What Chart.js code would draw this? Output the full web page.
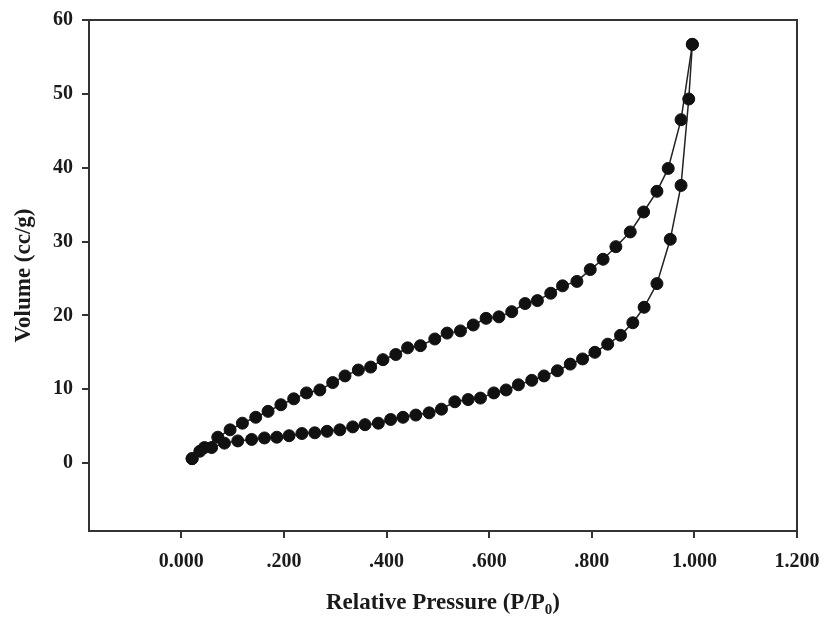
<!DOCTYPE html>
<html>
<head>
<meta charset="utf-8">
<script src="https://cdn.jsdelivr.net/npm/chart.js@4.4.1/dist/chart.umd.min.js"></script>
<style>
  html, body { margin: 0; padding: 0; background: #fff; }
  #isotherm { display: block; }
</style>
</head>
<body>
<canvas id="isotherm" width="824" height="619"></canvas>
<script>
// ---------- DATA ----------
// adsorption branch (lower curve)
const adsP = [0.021, 0.036, 0.059, 0.084, 0.110, 0.137, 0.162, 0.186, 0.210, 0.235,
  0.260, 0.284, 0.309, 0.334, 0.358, 0.384, 0.408, 0.432, 0.457, 0.483,
  0.507, 0.533, 0.559, 0.583, 0.609, 0.633, 0.657, 0.683, 0.707, 0.733,
  0.758, 0.782, 0.806, 0.831, 0.856, 0.880, 0.902, 0.927, 0.953, 0.974,
  0.989, 0.996];
const adsV = [0.6, 1.6, 2.1, 2.7, 3.0, 3.2, 3.4, 3.5, 3.7, 4.0,
  4.1, 4.3, 4.5, 4.9, 5.2, 5.4, 5.9, 6.2, 6.5, 6.8,
  7.3, 8.3, 8.6, 8.8, 9.5, 9.9, 10.6, 11.2, 11.8, 12.5,
  13.4, 14.1, 15.0, 16.1, 17.3, 19.0, 21.1, 24.3, 30.3, 37.6,
  49.3, 56.7];

// desorption branch (upper curve)
const desP = [0.021, 0.045, 0.071, 0.095, 0.119, 0.145, 0.169, 0.194, 0.219, 0.244,
  0.270, 0.295, 0.319, 0.345, 0.369, 0.393, 0.418, 0.441, 0.466, 0.494,
  0.518, 0.544, 0.569, 0.594, 0.619, 0.644, 0.670, 0.694, 0.720, 0.743,
  0.771, 0.797, 0.822, 0.847, 0.875, 0.901, 0.927, 0.949, 0.974, 0.996];
const desV = [0.6, 2.1, 3.5, 4.5, 5.4, 6.2, 7.0, 7.9, 8.7, 9.5,
  9.9, 10.9, 11.8, 12.6, 13.0, 14.0, 14.7, 15.6, 15.9, 16.8,
  17.6, 17.9, 18.7, 19.6, 19.8, 20.5, 21.6, 22.0, 23.0, 24.0,
  24.6, 26.2, 27.6, 29.3, 31.3, 34.0, 36.8, 39.9, 46.5, 56.7];

// axis ticks
const xTicks = [0, 0.2, 0.4, 0.6, 0.8, 1.0, 1.2];
const xTickLabels = ["0.000", ".200", ".400", ".600", ".800", "1.000", "1.200"];
const yTicks = [0, 10, 20, 30, 40, 50, 60];

// ---------- CHART ----------
const FONT = "'Liberation Serif', 'Times New Roman', serif";
const INK = "#1a1a1a";

function toPoints(xs, ys) {
  return xs.map((x, i) => ({ x: x, y: ys[i] }));
}

// frame box + x title with subscript
const framePlugin = {
  id: "frame",
  afterDraw(chart) {
    const { ctx, chartArea: a } = chart;
    ctx.save();
    ctx.strokeStyle = "#333";
    ctx.lineWidth = 2;
    ctx.strokeRect(a.left, a.top, a.right - a.left, a.bottom - a.top);

    // x axis title: Relative Pressure (P/P0)
    ctx.fillStyle = INK;
    ctx.textBaseline = "alphabetic";
    const main = "Relative Pressure (P/P";
    const big = "bold 23px " + FONT;
    const small = "bold 15px " + FONT;
    ctx.font = big;
    const w1 = ctx.measureText(main).width;
    const w3 = ctx.measureText(")").width;
    ctx.font = small;
    const w2 = ctx.measureText("0").width;
    const total = w1 + w2 + w3;
    let x = (a.left + a.right) / 2 - total / 2;
    const y = 609;
    ctx.font = big;
    ctx.fillText(main, x, y);
    x += w1;
    ctx.font = small;
    ctx.fillText("0", x, y + 5);
    x += w2;
    ctx.font = big;
    ctx.fillText(")", x, y);
    ctx.restore();
  }
};

const series = (xs, ys) => ({
  data: toPoints(xs, ys),
  showLine: true,
  borderColor: "#222",
  borderWidth: 1.5,
  backgroundColor: "#111",
  pointBackgroundColor: "#111",
  pointBorderColor: "#111",
  pointBorderWidth: 1,
  pointRadius: 6,
  tension: 0
});

new Chart(document.getElementById("isotherm"), {
  type: "scatter",
  data: {
    datasets: [series(adsP, adsV), series(desP, desV)]
  },
  options: {
    responsive: false,
    animation: false,
    devicePixelRatio: 1,
    layout: { padding: { top: 20, right: 27, left: 0, bottom: 0 } },
    plugins: {
      legend: { display: false },
      tooltip: { enabled: false }
    },
    scales: {
      x: {
        type: "linear",
        min: -0.18,
        max: 1.2,
        afterFit: (s) => { s.height = 88; s.paddingLeft = 0; s.paddingRight = 0; },
        afterBuildTicks: (s) => { s.ticks = xTicks.map(v => ({ value: v })); },
        grid: { display: true, drawOnChartArea: false, tickLength: 7, color: "#333", lineWidth: 2 },
        border: { display: true, color: "#333", width: 2 },
        ticks: {
          padding: 12,
          maxRotation: 0,
          color: INK,
          font: { family: FONT, size: 20, weight: "bold" },
          callback: (v) => {
            const i = xTicks.findIndex(t => Math.abs(t - v) < 1e-9);
            return i >= 0 ? xTickLabels[i] : "";
          }
        }
      },
      y: {
        type: "linear",
        min: -9.2,
        max: 60,
        afterFit: (s) => { s.width = 89; s.paddingTop = 0; s.paddingBottom = 0; },
        afterBuildTicks: (s) => { s.ticks = yTicks.map(v => ({ value: v })); },
        grid: { display: true, drawOnChartArea: false, tickLength: 7, color: "#333", lineWidth: 2 },
        border: { display: true, color: "#333", width: 2 },
        ticks: {
          padding: 9,
          color: INK,
          font: { family: FONT, size: 20, weight: "bold" }
        },
        title: {
          display: true,
          text: "Volume (cc/g)",
          color: INK,
          padding: { top: 10, bottom: 0 },
          font: { family: FONT, size: 23, weight: "bold" }
        }
      }
    }
  },
  plugins: [framePlugin]
});
</script>
</body>
</html>
